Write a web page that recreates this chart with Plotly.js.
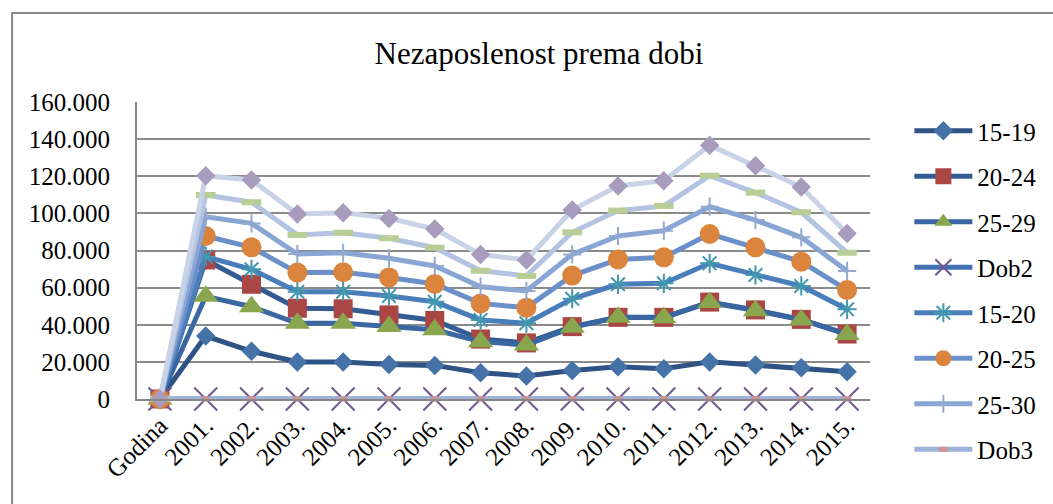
<!DOCTYPE html>
<html>
<head>
<meta charset="utf-8">
<script src="https://cdn.plot.ly/plotly-3.0.1.min.js"></script>
<style>
html,body{margin:0;padding:0;background:#fff;}
#chart{width:1053px;height:504px;}
</style>
</head>
<body>
<div id="chart"></div>
<script>
const categories = ['Godina','2001.','2002.','2003.','2004.','2005.','2006.','2007.','2008.','2009.','2010.','2011.','2012.','2013.','2014.','2015.'];

const s1519 = [0, 33900, 25700, 20000, 20000, 18600, 18100, 14200, 12400, 15400, 17400, 16300, 20000, 18300, 16800, 14700];
const s2024 = [0, 74900, 61800, 48900, 48600, 45300, 42300, 32300, 30200, 39000, 44000, 44000, 52200, 48000, 42900, 35000];
const s2529 = [0, 55300, 49700, 40800, 40800, 39000, 37300, 30900, 29100, 38600, 44000, 43800, 52000, 47600, 42600, 34800];
const dob2  = [0, 0, 0, 0, 0, 0, 0, 0, 0, 0, 0, 0, 0, 0, 0, 0];
const s1520 = [0, 76700, 69900, 57800, 57800, 55500, 52400, 42600, 40800, 54000, 61800, 62300, 73100, 66800, 60900, 48300];
const s2025 = [0, 87800, 81700, 68100, 68300, 65500, 62000, 51500, 49200, 66500, 75200, 76300, 88900, 81700, 74000, 58700];
const s2530 = [0, 98200, 94600, 78100, 78800, 75800, 71700, 60500, 58200, 77900, 87800, 90700, 103600, 96400, 87100, 69000];
const dob3  = [0, 0, 0, 0, 0, 0, 0, 0, 0, 0, 0, 0, 0, 0, 0, 0];
const niz9  = [0, 109900, 106000, 88400, 89600, 86600, 81500, 69100, 66300, 89800, 101500, 104000, 120300, 111200, 100600, 78800];
const niz10 = [0, 120300, 118000, 99700, 100400, 97300, 91600, 77900, 74900, 101800, 114800, 117600, 136700, 125700, 114200, 89200];

const seriesNames = ['15-19','20-24','25-29','Dob2','15-20','20-25','25-30','Dob3','Niz9','Niz10'];
const seriesData = [s1519, s2024, s2529, dob2, s1520, s2025, s2530, dob3, niz9, niz10];

const FONT = '"Liberation Serif", "Times New Roman", serif';

const lineColors = ['#2E5384','#335C93','#3A66A2','#4371B3','#4A7EBB','#6A8FC9','#89A5D4','#9DB3DB','#B3C3E1','#C8D3E7'];
const markerDefs = [
  {symbol:'diamond', size:15, color:'#4572A7', line:{width:0}},
  {symbol:'square', size:19, color:'#AA4643', line:{width:0}},
  {symbol:'triangle-up', size:22, color:'#89A54E', line:{width:0}},
  {symbol:'x-thin', size:23, color:'#71588F', line:{width:2, color:'#71588F'}},
  {symbol:'asterisk', size:16, color:'#4198AF', line:{width:2, color:'#4198AF'}},
  {symbol:'circle', size:20, color:'#DB843D', line:{width:0}},
  {symbol:'cross-thin', size:13, color:'#93A9CF', line:{width:2, color:'#93A9CF'}},
  {symbol:'line-ew', size:6, color:'#D19392', line:{width:5, color:'#D19392'}},
  {symbol:'line-ew', size:14, color:'#B9CD96', line:{width:6, color:'#B9CD96'}},
  {symbol:'diamond', size:15, color:'#A99BBD', line:{width:0}}
];

const traces = seriesData.map((vals, i) => ({
  type: 'scatter',
  mode: 'lines+markers',
  x: categories,
  y: vals,
  name: seriesNames[i],
  legendgroup: 'g' + i,
  showlegend: i < 8,
  line: {color: lineColors[i], width: 5},
  marker: markerDefs[i],
  cliponaxis: false
}));

// plot area pixels
const L = 137, R = 882, T = 102, B = 399;
const px = v => (v - L) / (R - L);
const py = v => (B - v) / (B - T);

const layout = {
  width: 1053,
  height: 504,
  margin: {l: L, r: 1053 - R, t: T, b: 504 - B, pad: 0},
  paper_bgcolor: '#ffffff',
  plot_bgcolor: '#ffffff',
  separators: ',.',
  font: {family: FONT, size: 24, color: '#000'},
  title: {
    text: 'Nezaposlenost prema dobi',
    font: {family: FONT, size: 31, color: '#000'},
    x: 539 / 1053, xref: 'container', xanchor: 'center',
    y: 1 - 53 / 504, yref: 'container', yanchor: 'middle'
  },
  xaxis: {
    type: 'category',
    range: [-0.5, 15.5],
    tickangle: -45,
    showgrid: false,
    showline: true,
    linecolor: '#878787',
    linewidth: 2,
    ticks: '',
    tickfont: {family: FONT, size: 25, color: '#000'},
    zeroline: false,
    fixedrange: true
  },
  yaxis: {
    range: [0, 160000],
    dtick: 20000,
    tick0: 0,
    tickformat: ',d',
    showgrid: true,
    gridcolor: '#8A8A8A',
    gridwidth: 2,
    showline: true,
    linecolor: '#878787',
    linewidth: 2,
    zeroline: false,
    ticks: '',
    ticklabelstandoff: 20,
    tickfont: {family: FONT, size: 25, color: '#000'},
    fixedrange: true
  },
  legend: {
    x: px(922), xanchor: 'left',
    y: py(108), yanchor: 'top',
    font: {family: FONT, size: 25, color: '#000'},
    bgcolor: 'rgba(0,0,0,0)',
    itemwidth: 58,
    tracegroupgap: 10,
    traceorder: 'grouped',
    maxheight: 480
  },
  shapes: [
    {type: 'rect', xref: 'paper', yref: 'paper',
     x0: px(10), x1: px(1070), y0: py(13), y1: py(520),
     line: {color: '#898989', width: 2}, fillcolor: 'rgba(0,0,0,0)', layer: 'below'}
  ],
  showlegend: true
};

Plotly.newPlot('chart', traces, layout, {displayModeBar: false, staticPlot: true});
</script>
</body>
</html>
